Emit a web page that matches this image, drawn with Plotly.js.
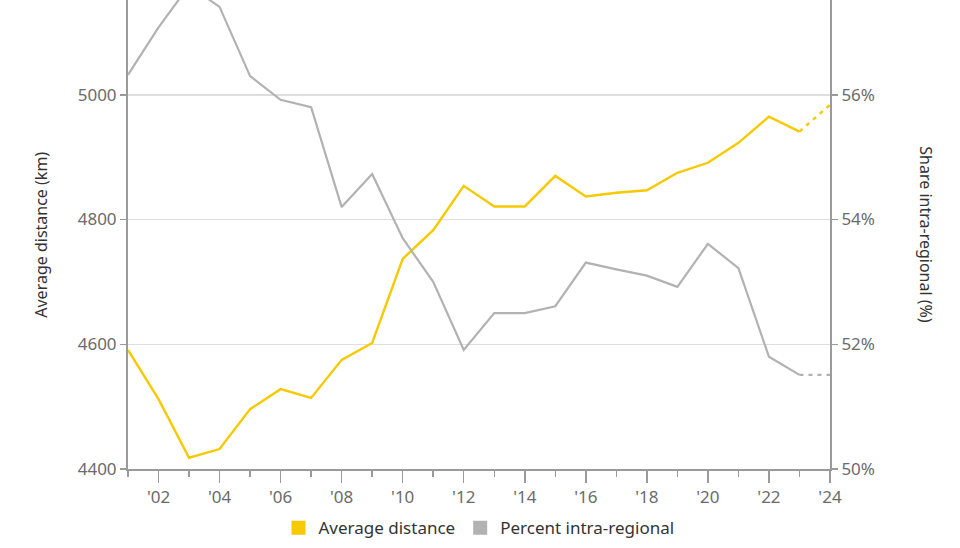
<!DOCTYPE html>
<html>
<head>
<meta charset="utf-8">
<script src="https://cdn.plot.ly/plotly-3.0.1.min.js"></script>
<style>
  html, body { margin: 0; padding: 0; background: #fff; }
  #chart { width: 960px; height: 548px; }
</style>
</head>
<body>
<div id="chart"></div>
<script>
// Data
const years = [2001, 2002, 2003, 2004, 2005, 2006, 2007, 2008, 2009, 2010, 2011, 2012,
               2013, 2014, 2015, 2016, 2017, 2018, 2019, 2020, 2021, 2022, 2023];
const avgDistance = [4591, 4512, 4418, 4432, 4496, 4528, 4514, 4575, 4602, 4737, 4783, 4854,
                     4821, 4821, 4870, 4837, 4843, 4847, 4875, 4891, 4923, 4965, 4941];
const intraRegional = [56.32, 57.08, 57.75, 57.41, 56.3, 55.92, 55.8, 54.2, 54.73, 53.7, 53.0, 51.91,
                       52.5, 52.5, 52.61, 53.31, 53.2, 53.1, 52.92, 53.61, 53.22, 51.8, 51.51];
// Projected (dashed) segment 2023 -> 2024
const projYears = [2023, 2024];
const projDistance = [4941, 4984];
const projIntra = [51.51, 51.51];

const xTickVals = [2002, 2004, 2006, 2008, 2010, 2012, 2014, 2016, 2018, 2020, 2022, 2024];
const xTickText = ["'02", "'04", "'06", "'08", "'10", "'12", "'14", "'16", "'18", "'20", "'22", "'24"];
const yLeftTicks = [4400, 4600, 4800, 5000];
const yRightTicks = [50, 52, 54, 56];
const yRightText = ["50%", "52%", "54%", "56%"];

const seriesNames = ["Average distance", "Percent intra-regional"];
const yellow = "#F7C900";
const grey = "#B2B2B2";

const traces = [
  { x: years, y: intraRegional, yaxis: "y2", mode: "lines", line: {color: grey, width: 2.2},
    showlegend: false, hoverinfo: "skip" },
  { x: projYears, y: projIntra, yaxis: "y2", mode: "lines", line: {color: grey, width: 2.2, dash: "4px,5px"},
    showlegend: false, hoverinfo: "skip" },
  { x: years, y: avgDistance, mode: "lines", line: {color: yellow, width: 2.4},
    showlegend: false, hoverinfo: "skip" },
  { x: projYears, y: projDistance, mode: "lines", line: {color: yellow, width: 2.4, dash: "4px,5px"},
    showlegend: false, hoverinfo: "skip" },
  // legend entries (square swatches)
  { x: [null], y: [null], mode: "markers", name: seriesNames[0],
    marker: {symbol: "square", size: 14, color: yellow} },
  { x: [null], y: [null], mode: "markers", name: seriesNames[1], yaxis: "y2",
    marker: {symbol: "square", size: 14, color: grey} }
];

const axisColor = "#9a9a9a";
const tickFont = {family: "Noto Sans, sans-serif", size: 17, color: "#6b6b6b"};

const layout = {
  width: 960, height: 548,
  margin: {l: 128, r: 130, t: 0, b: 79},
  paper_bgcolor: "#fff", plot_bgcolor: "#fff",
  font: {family: "Noto Sans, sans-serif", size: 17, color: "#333"},
  xaxis: {
    range: [2001, 2024],
    tickmode: "array", tickvals: xTickVals, ticktext: xTickText,
    ticks: "outside", ticklen: 12, tickwidth: 1.5, tickcolor: axisColor,
    minor: {tick0: 2001, dtick: 1, ticks: "outside", ticklen: 6, tickwidth: 1.5, tickcolor: axisColor, showgrid: false},
    showline: true, linecolor: axisColor, linewidth: 2,
    showgrid: false, zeroline: false,
    tickfont: tickFont, fixedrange: true
  },
  yaxis: {
    range: [4400, 5152],
    tickmode: "array", tickvals: yLeftTicks,
    ticks: "outside", ticklen: 6, tickwidth: 1.5, tickcolor: axisColor,
    showline: true, linecolor: axisColor, linewidth: 2,
    showgrid: true, gridcolor: "#dedede", gridwidth: 1.5, zeroline: false,
    tickfont: tickFont, fixedrange: true
  },
  yaxis2: {
    range: [50, 57.52], overlaying: "y", side: "right",
    tickmode: "array", tickvals: yRightTicks, ticktext: yRightText,
    ticks: "outside", ticklen: 6, tickwidth: 1.5, tickcolor: axisColor,
    showline: true, linecolor: axisColor, linewidth: 2,
    showgrid: false, zeroline: false,
    tickfont: tickFont, fixedrange: true
  },
  showlegend: true,
  legend: {
    orientation: "h", x: 0.5, xanchor: "center", y: -0.126, yanchor: "middle",
    font: {family: "Noto Sans, sans-serif", size: 17, color: "#333"},
    itemwidth: 30, tracegroupgap: 0
  },
  annotations: [
    { text: "Average distance (km)", xref: "paper", yref: "paper", x: -0.125, y: 0.5,
      xanchor: "center", yanchor: "middle", textangle: -90, showarrow: false,
      font: {family: "Noto Sans, sans-serif", size: 16, color: "#333"} },
    { text: "Share intra-regional (%)", xref: "paper", yref: "paper", x: 1.137, y: 0.5,
      xanchor: "center", yanchor: "middle", textangle: 90, showarrow: false,
      font: {family: "Noto Sans, sans-serif", size: 16, color: "#333"} }
  ]
};

Plotly.newPlot("chart", traces, layout, {displayModeBar: false, staticPlot: true});
</script>
</body>
</html>
